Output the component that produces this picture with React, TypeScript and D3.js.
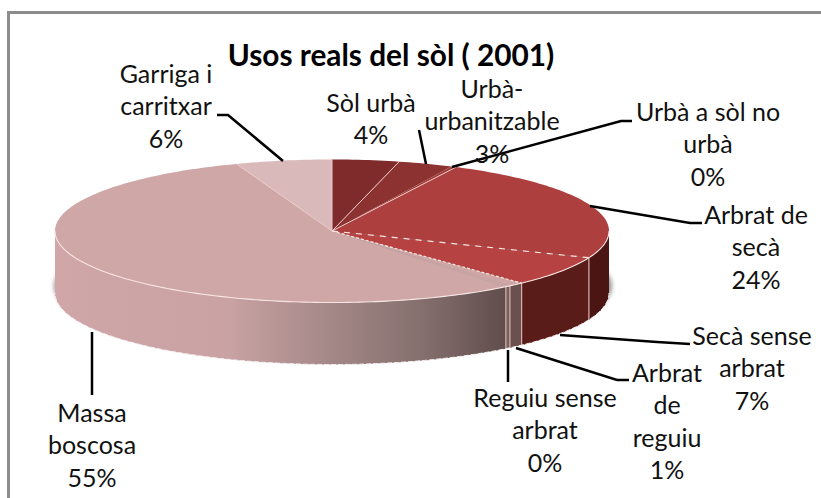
import React from "react";
import * as d3 from "d3";

const categories = ["Sòl urbà","Urbà-urbanitzable","Urbà a sòl no urbà","Arbrat de secà","Secà sense arbrat","Arbrat de reguiu","Reguiu sense arbrat","Massa boscosa","Garriga i carritxar"];
const values = [3.9,3.2,0.3,23.7,6.9,0.9,0.3,55.2,5.6];
const topColors = ["#7f2b2b","#8c3331","#a03a38","#ae3f3f","#b64242","#cfa6a5","#cfa6a6","#cfa7a7","#d9b9b9"];
const sideColors = ["#5a1a18","#5a1a18","#5a1a18","#4a1513","#5a1c18","#6a504e","#75605e","url(#massaSide)","#cfa6a6"];

const labelLines = [["Sòl urbà","4%"],["Urbà-","urbanitzable","3%"],["Urbà a sòl no","urbà","0%"],["Arbrat de","secà","24%"],["Secà sense","arbrat","7%"],["Arbrat","de","reguiu","1%"],["Reguiu sense","arbrat","0%"],["Massa","boscosa","55%"],["Garriga i","carritxar","6%"]];
const labelAnchors = [[371,112],[492,98],[708,121],[756,224],[752,345],[667,382],[545,407],[92,422],[166,83]];
const leaders = [
  [[0,0]],
  [[419,130],[426,164]],
  [[632,121],[621,121],[452,167]],
  [[702,223],[690,223],[590,206]],
  [[690,344],[657,342],[560,335]],
  [[629,380],[617,380],[516,348]],
  [[508,382],[508,350]],
  [[92,395],[92,332]],
  [[217,115],[228,115],[283,161]],
];

const cx = 332, cy = 231, rx = 277, ry = 71.5, depth = 62;
const tau = Math.PI * 2;
const px = (a: number) => cx + rx * Math.sin(a);
const py = (a: number, z = 0) => cy - ry * Math.cos(a) + z;
const pie = d3.pie<number>().sort(null)(values);

function rim(a0: number, a1: number) {
  const n = Math.max(2, Math.ceil((a1 - a0) / 0.02));
  return d3.range(n + 1).map(i => a0 + ((a1 - a0) * i) / n);
}
function wedge(a0: number, a1: number) {
  const line = d3.line<number>().x(px).y(a => py(a));
  return `M${cx},${cy}L` + line(rim(a0, a1))!.slice(1) + "Z";
}
function side(a0: number, a1: number) {
  const s = Math.max(a0, tau / 4), e = Math.min(a1, (tau * 3) / 4);
  if (e <= s) return "";
  const pts = rim(s, e);
  const top = pts.map(a => [px(a), py(a)] as [number, number]);
  const bot = pts.slice().reverse().map(a => [px(a), py(a, depth)] as [number, number]);
  return d3.line()([...top, ...bot])! + "Z";
}
const radial = (a: number) => d3.line()([[cx, cy], [px(a), py(a)]])!;
const rimLine = (z: number) => d3.line<number>().x(px).y(a => py(a, z))(rim(tau / 4, (tau * 3) / 4))!;

export default function App() {
  return (
    <svg width={821} height={498} style={{ position: "absolute", left: 0, top: 0, fontFamily: "Lato, 'Open Sans', sans-serif" }}>
      <defs>
        <linearGradient id="massaSide" gradientUnits="userSpaceOnUse" x1={px(-tau / 4)} x2={px(tau * 0.39)} y1={0} y2={0}>
          <stop offset="0" stopColor="#d0a6a8" />
          <stop offset="0.385" stopColor="#c9a2a3" />
          <stop offset="0.63" stopColor="#a08584" />
          <stop offset="0.805" stopColor="#85706e" />
          <stop offset="1" stopColor="#5f4c4a" />
        </linearGradient>
        <filter id="blur" x="-5%" y="-20%" width="110%" height="140%"><feGaussianBlur stdDeviation="2" /></filter>
      </defs>
      <rect x={0} y={0} width={821} height={498} fill="#fff" />
      <rect x={8.5} y={12.5} width={830} height={500} fill="#fff" stroke="#8c8c8c" strokeWidth={3} />
      <ellipse cx={cx + 1} cy={cy + depth - 7} rx={rx + 2} ry={ry} fill="#949494" filter="url(#blur)" />
      {pie.map((d, i) => {
        const p = side(d.startAngle, d.endAngle);
        return p ? <path key={i} d={p} fill={sideColors[i]} /> : null;
      })}
      {pie.map((d, i) => {
        const a = d.endAngle;
        return a > tau / 4 && a < (tau * 3) / 4 && i < 7 ? (
          <path key={i} d={d3.line()([[px(a), py(a)], [px(a), py(a, depth)]])!} stroke="#d9b0ae" strokeWidth={1.2} fill="none" />
        ) : null;
      })}
      {pie.map((d, i) => (
        <path key={i} d={wedge(d.startAngle, d.endAngle)} fill={topColors[i]} />
      ))}
      {[pie[0].startAngle, pie[0].endAngle, pie[2].endAngle, pie[7].endAngle].map((a, i) => (
        <path key={i} d={radial(a)} stroke="#ecc9c9" strokeWidth={1} fill="none" />
      ))}
      <path d={radial(pie[3].endAngle)} stroke="#f6e6e0" strokeWidth={1.2} strokeDasharray="6 6" fill="none" />
      <path d={radial(pie[4].endAngle)} stroke="#f6e6e0" strokeWidth={1.2} strokeDasharray="3 2" fill="none" />
      <path d={rimLine(0)} stroke="#f7e6e4" strokeWidth={1.1} fill="none" />
      <path d={rimLine(depth)} stroke="#f4f0f0" strokeWidth={1} strokeDasharray="5 2" fill="none" />
      {leaders.map((l, i) => l.length > 1 ? (
        <path key={i} d={d3.line()(l as [number, number][])!} fill="none" stroke="#000" strokeWidth={2.5} />
      ) : null)}
      <text x={391} y={66} textAnchor="middle" fontSize={29.8} fontWeight={700} fill="#000">Usos reals del sòl ( 2001)</text>
      {labelLines.map((lines, i) => (
        <text key={categories[i]} textAnchor="middle" fontSize={25} fill="#111">
          {lines.map((t, j) => <tspan key={j} x={labelAnchors[i][0]} y={labelAnchors[i][1] + j * 32.3}>{t}</tspan>)}
        </text>
      ))}
    </svg>
  );
}
